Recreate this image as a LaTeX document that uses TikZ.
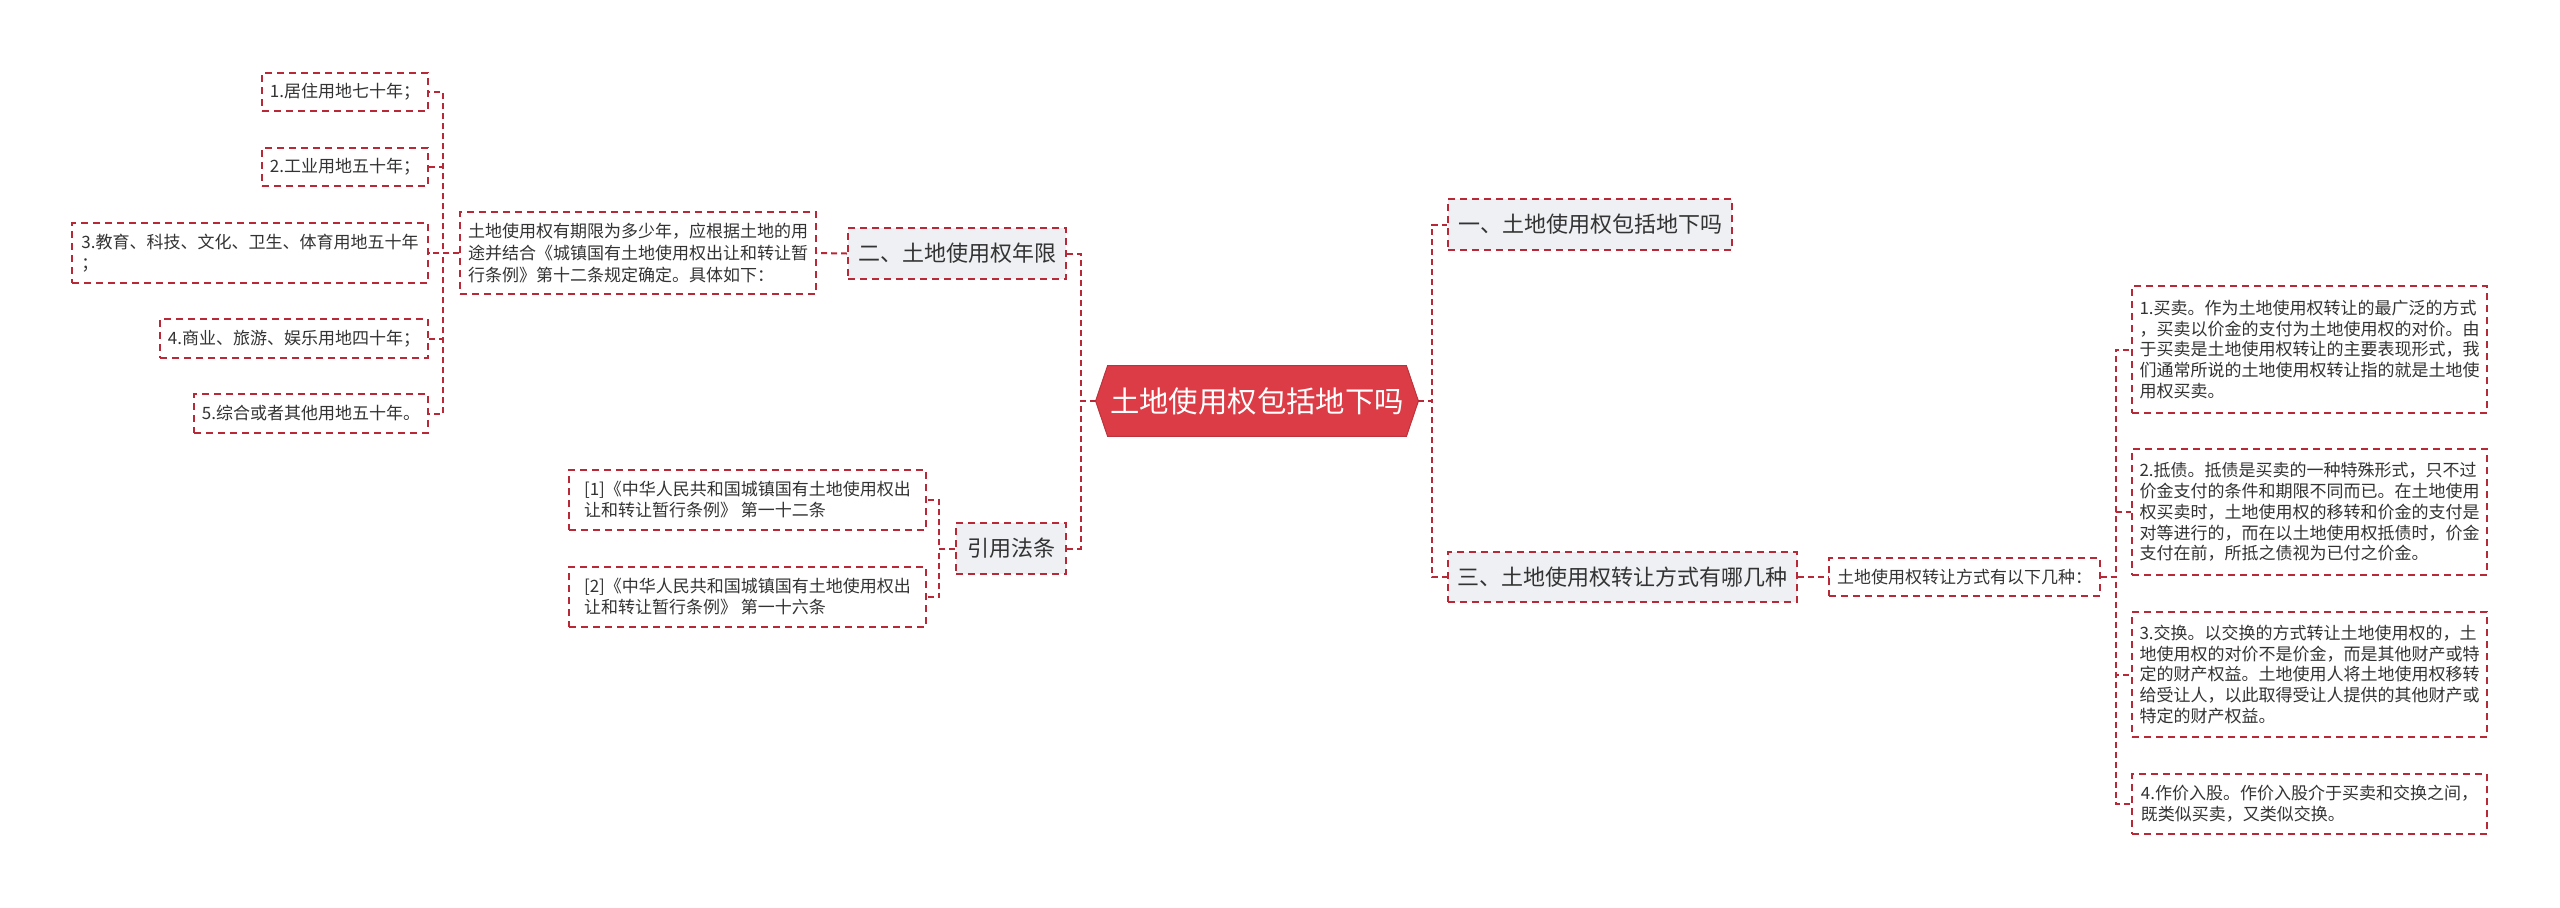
\documentclass[tikz,border=0pt]{standalone}
\usepackage{fontspec}
\setmainfont{Noto Sans CJK SC}
\usetikzlibrary{calc}
\definecolor{lc}{HTML}{B82836}
\definecolor{rootred}{HTML}{DC3C46}
\definecolor{lvl}{HTML}{EEF0F3}
\definecolor{tx}{HTML}{333333}
\pgfdeclarelayer{bg}
\pgfsetlayers{bg,main}
\tikzset{
  conn/.style={draw=lc, line width=1pt, dash pattern=on 3pt off 2pt},
  box/.style={draw=lc, line width=0.9pt, dash pattern=on 3.5pt off 2.5pt, rectangle, inner sep=0pt, align=left, text=tx, fill=white, font=\fontsize{8.5pt}{10.5pt}\selectfont},
  lvlbox/.style={box, fill=lvl, font=\fontsize{11pt}{13pt}\selectfont},
}
\begin{document}
\begin{tikzpicture}[x=0.5pt,y=-0.5pt]
\useasboundingbox (0,0) rectangle (2560,907);
\begin{pgfonlayer}{bg}
\fill[white] (0,0) rectangle (2560,907);
\end{pgfonlayer}

% root
\node[text=white, font=\fontsize{14.7pt}{17pt}\selectfont, minimum width=161pt, minimum height=35pt, inner sep=0pt] (R) at (1257,401) {土地使用权包括地下吗};
\begin{pgfonlayer}{bg}
\filldraw[fill=rootred, draw=rootred!85!black, line width=0.5pt] (R.west) -- ([xshift=6pt]R.north west) -- ([xshift=-6pt]R.north east) -- (R.east) -- ([xshift=-6pt]R.south east) -- ([xshift=6pt]R.south west) -- cycle;
\end{pgfonlayer}

% left side
\node[box, minimum width=83pt, minimum height=19pt] (L1) at (345,92) {1.居住用地七十年；};
\node[box, minimum width=83pt, minimum height=19pt] (L2) at (345,167) {2.工业用地五十年；};
\node[box, minimum width=178pt, minimum height=30pt] (L3) at (250,253) {3.教育、科技、文化、卫生、体育用地五十年\\；};
\node[box, minimum width=134pt, minimum height=19.5pt] (L4) at (294,338.5) {4.商业、旅游、娱乐用地四十年；};
\node[box, minimum width=117pt, minimum height=19.5pt] (L5) at (311,413.5) {5.综合或者其他用地五十年。};
\node[box, minimum width=178pt, minimum height=41pt, font=\fontsize{8.5pt}{10.8pt}\selectfont] (D) at (638,253) {土地使用权有期限为多少年，应根据土地的用\\途并结合《城镇国有土地使用权出让和转让暂\\行条例》第十二条规定确定。具体如下：};
\node[lvlbox, minimum width=109pt, minimum height=25.5pt] (B2) at (957,253.5) {二、土地使用权年限};
\node[lvlbox, minimum width=55pt, minimum height=25.5pt] (B4) at (1011,548.5) {引用法条};
\node[box, minimum width=178.5pt, minimum height=30pt] (F1) at (747.5,500) {[1]《中华人民共和国城镇国有土地使用权出\\让和转让暂行条例》 第一十二条};
\node[box, minimum width=178.5pt, minimum height=30pt] (F2) at (747.5,597) {[2]《中华人民共和国城镇国有土地使用权出\\让和转让暂行条例》 第一十六条};

% right side
\node[lvlbox, minimum width=142pt, minimum height=25.5pt] (B1) at (1590,224.5) {一、土地使用权包括地下吗};
\node[lvlbox, minimum width=174.5pt, minimum height=25pt] (B3) at (1622.5,577) {三、土地使用权转让方式有哪几种};
\node[box, minimum width=135.5pt, minimum height=19pt] (S) at (1964.5,577) {土地使用权转让方式有以下几种：};
\node[box, minimum width=177.5pt, minimum height=63.5pt, font=\fontsize{8.5pt}{10.4pt}\selectfont] (T1) at (2309.5,349.5) {1.买卖。作为土地使用权转让的最广泛的方式\\，买卖以价金的支付为土地使用权的对价。由\\于买卖是土地使用权转让的主要表现形式，我\\们通常所说的土地使用权转让指的就是土地使\\用权买卖。};
\node[box, minimum width=177.5pt, minimum height=63pt, font=\fontsize{8.5pt}{10.4pt}\selectfont] (T2) at (2309.5,512) {2.抵债。抵债是买卖的一种特殊形式，只不过\\价金支付的条件和期限不同而已。在土地使用\\权买卖时，土地使用权的移转和价金的支付是\\对等进行的，而在以土地使用权抵债时，价金\\支付在前，所抵之债视为已付之价金。};
\node[box, minimum width=177.5pt, minimum height=62.5pt, font=\fontsize{8.5pt}{10.4pt}\selectfont] (T3) at (2309.5,674.5) {3.交换。以交换的方式转让土地使用权的，土\\地使用权的对价不是价金，而是其他财产或特\\定的财产权益。土地使用人将土地使用权移转\\给受让人，以此取得受让人提供的其他财产或\\特定的财产权益。};
\node[box, minimum width=177.5pt, minimum height=30pt] (T4) at (2309.5,804) {4.作价入股。作价入股介于买卖和交换之间，\\既类似买卖，又类似交换。};

% connectors
\foreach \n in {L1,L2,L3,L4,L5} \draw[conn] (D.west) -- ++(-16,0) |- (\n.east);
\draw[conn] (B2.west) -- (D.east);
\draw[conn] (R.west) -- ++(-15,0) |- (B2.east);
\draw[conn] (R.west) -- ++(-15,0) |- (B4.east);
\draw[conn] (B4.west) -- ++(-16,0) |- (F1.east);
\draw[conn] (B4.west) -- ++(-16,0) |- (F2.east);
\draw[conn] (R.east) -- ++(14,0) |- (B1.west);
\draw[conn] (R.east) -- ++(14,0) |- (B3.west);
\draw[conn] (B3.east) -- (S.west);
\foreach \n in {T1,T2,T3,T4} \draw[conn] (S.east) -- ++(15,0) |- (\n.west);
\end{tikzpicture}
\end{document}
